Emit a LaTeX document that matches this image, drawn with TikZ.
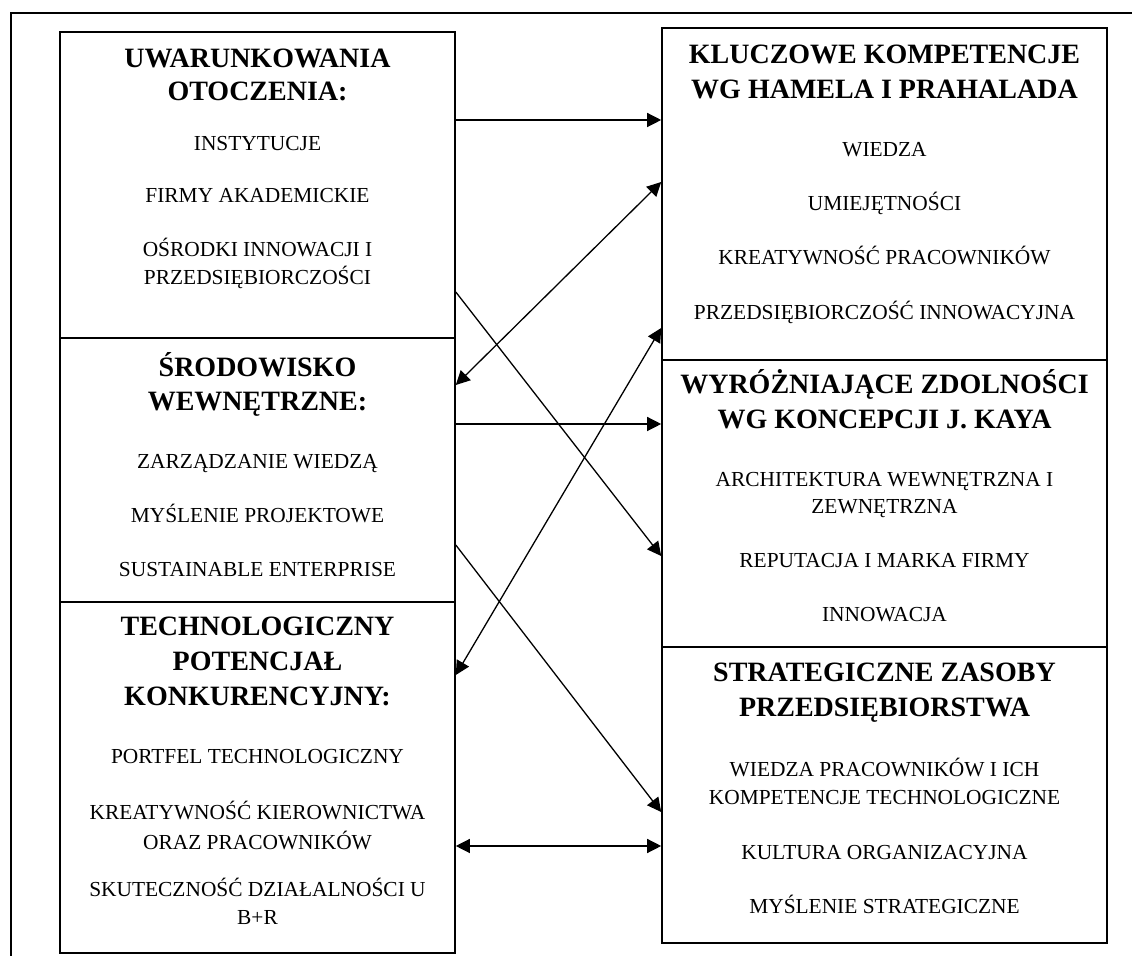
\documentclass[tikz,border=0pt]{standalone}
\usepackage{fontspec}
\setmainfont{Liberation Serif}
\usepackage{tikz}
\usetikzlibrary{positioning}
\usetikzlibrary{arrows.meta,fit}
\tikzstyle{box}=[rectangle,draw,line width=0.8pt,inner sep=0pt]
\tikzstyle{head}=[font=\bfseries\fontsize{14}{17}\selectfont,anchor=base,inner sep=0pt]
\tikzstyle{item}=[font=\fontsize{10.7}{13}\selectfont,anchor=base,inner sep=0pt]
\tikzstyle{arrow} = [draw,line width=0.65pt,-{Triangle[length=7pt,width=7pt]}]
\tikzstyle{biarrow} = [draw,line width=0.65pt,{Triangle[length=7pt,width=7pt]}-{Triangle[length=7pt,width=7pt]}]

\begin{document}
\begin{tikzpicture}[x=0.5pt,y=-0.5pt]

  \useasboundingbox (0,0) rectangle (1132,956);
  \draw[line width=0.8pt] (11,956) -- (11,13) -- (1132,13);

  \def\lx{257.5};
  \def\rx{884.5};

  % boxes
  \foreach \name/\xa/\ya/\xb/\yb in {L1/60/32/455/338, L2/60/338/455/602, L3/60/602/455/953,
                                     R1/662/28/1107/360, R2/662/360/1107/647, R3/662/647/1107/943}
          \node[box, fit={(\xa,\ya) (\xb,\yb)}] (\name) {};

  % left column
  \foreach \y/\name/\label in {68/L1h1/UWARUNKOWANIA, 101/L1h2/OTOCZENIA:,
                               377/L2h1/ŚRODOWISKO, 411/L2h2/WEWNĘTRZNE:,
                               636/L3h1/TECHNOLOGICZNY, 671/L3h2/POTENCJAŁ, 706/L3h3/KONKURENCYJNY:}
          \node[head] (\name) at (\lx, \y) {\label};

  \foreach \y/\name/\label in {151/L1a/INSTYTUCJE, 203/L1b/FIRMY AKADEMICKIE,
                               257/L1c/OŚRODKI INNOWACJI I, 285/L1d/PRZEDSIĘBIORCZOŚCI,
                               469/L2a/ZARZĄDZANIE WIEDZĄ, 523/L2b/MYŚLENIE PROJEKTOWE, 577/L2c/SUSTAINABLE ENTERPRISE,
                               764/L3a/PORTFEL TECHNOLOGICZNY, 820/L3b/KREATYWNOŚĆ KIEROWNICTWA, 850/L3c/ORAZ PRACOWNIKÓW,
                               897/L3d/SKUTECZNOŚĆ DZIAŁALNOŚCI U, 925/L3e/B+R}
          \node[item] (\name) at (\lx, \y) {\label};

  % right column
  \foreach \y/\name/\label in {64/R1h1/KLUCZOWE KOMPETENCJE, 99/R1h2/WG HAMELA I PRAHALADA,
                               394/R2h1/WYRÓŻNIAJĄCE ZDOLNOŚCI, 429/R2h2/WG KONCEPCJI J. KAYA,
                               682/R3h1/STRATEGICZNE ZASOBY, 717/R3h2/PRZEDSIĘBIORSTWA}
          \node[head] (\name) at (\rx, \y) {\label};

  \foreach \y/\name/\label in {157/R1a/WIEDZA, 211/R1b/UMIEJĘTNOŚCI, 265/R1c/KREATYWNOŚĆ PRACOWNIKÓW,
                               320/R1d/PRZEDSIĘBIORCZOŚĆ INNOWACYJNA,
                               487/R2a/ARCHITEKTURA WEWNĘTRZNA I, 514/R2b/ZEWNĘTRZNA, 568/R2c/REPUTACJA I MARKA FIRMY,
                               622/R2d/INNOWACJA,
                               777/R3a/WIEDZA PRACOWNIKÓW I ICH, 805/R3b/KOMPETENCJE TECHNOLOGICZNE,
                               860/R3c/KULTURA ORGANIZACYJNA, 914/R3d/MYŚLENIE STRATEGICZNE}
          \node[item] (\name) at (\rx, \y) {\label};

  % links
  \foreach \source/\ys/\dest/\yd in {L1/120/R1/120, L1/292/R2/556, L2/424/R2/424, L2/545/R3/812}
         \path[arrow] (\source.east |- 0,\ys) -- (\dest.west |- 0,\yd);

  \foreach \source/\ys/\dest/\yd in {R1/182/L2/385, R1/328/L3/675, R3/846/L3/846}
         \path[biarrow] (\source.west |- 0,\ys) -- (\dest.east |- 0,\yd);

\end{tikzpicture}
\end{document}
